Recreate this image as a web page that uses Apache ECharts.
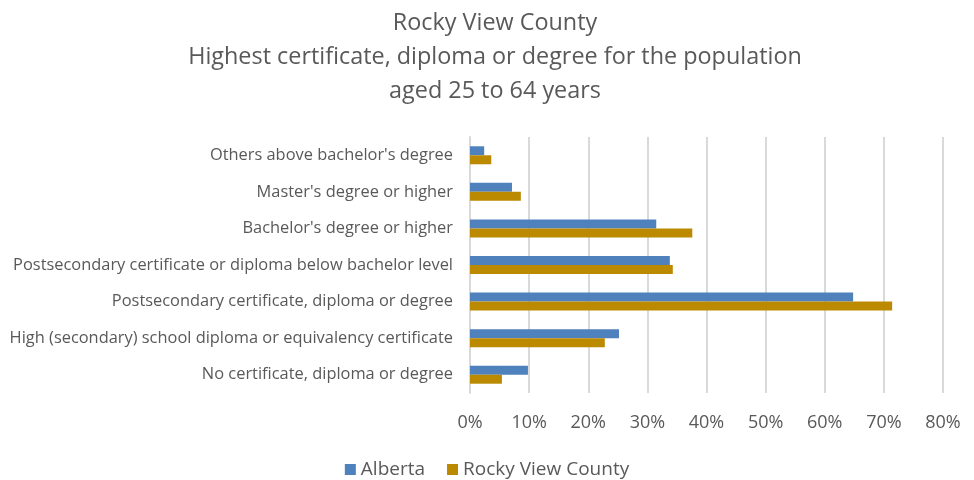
<!DOCTYPE html>
<html>
<head>
<meta charset="utf-8">
<script src="https://cdn.jsdelivr.net/npm/echarts@6/dist/echarts.min.js"></script>
<style>
  html, body { margin: 0; padding: 0; background: #fff; }
  #main { width: 974px; height: 480px; }
</style>
</head>
<body>
<div id="main"></div>
<script>
// categories, top to bottom as in the picture
var categories = [
  "Others above bachelor's degree",
  "Master's degree or higher",
  "Bachelor's degree or higher",
  "Postsecondary certificate or diploma below bachelor level",
  "Postsecondary certificate, diploma or degree",
  "High (secondary) school diploma or equivalency certificate",
  "No certificate, diploma or degree"
];
var seriesNames = ['Alberta', 'Rocky View County'];
var alberta = [2.4, 7.1, 31.5, 33.8, 64.8, 25.2, 9.8];
var rockyView = [3.6, 8.6, 37.6, 34.3, 71.4, 22.8, 5.4];

var textColor = '#595959';
var font = 'Open Sans';

var chart = echarts.init(document.getElementById('main'));
chart.setOption({
  backgroundColor: '#fff',
  animation: false,
  title: {
    text: 'Rocky View County\nHighest certificate, diploma or degree for the population\naged 25 to 64 years',
    left: 490,
    textAlign: 'center',
    top: 1,
    textStyle: {
      color: textColor,
      fontFamily: font,
      fontWeight: 'normal',
      fontSize: 23.4,
      lineHeight: 34
    }
  },
  legend: {
    top: 460,
    left: 'center',
    padding: 0,
    itemWidth: 11,
    itemHeight: 11,
    itemGap: 22,
    icon: 'rect',
    textStyle: { color: textColor, fontFamily: font, fontSize: 19 },
    data: seriesNames
  },
  grid: { left: 470, right: 31, top: 137, bottom: 87 },
  xAxis: {
    type: 'value',
    min: 0,
    max: 80,
    interval: 10,
    axisLine: { show: false },
    axisTick: { show: false },
    axisLabel: {
      color: textColor,
      fontFamily: font,
      fontSize: 18,
      margin: 21,
      formatter: '{value}%'
    },
    splitLine: { lineStyle: { color: '#D9D9D9', width: 2 } }
  },
  yAxis: {
    type: 'category',
    inverse: true,
    data: categories,
    axisLine: { lineStyle: { color: '#D9D9D9', width: 2 } },
    axisTick: { show: false },
    axisLabel: {
      color: textColor,
      fontFamily: font,
      fontSize: 16.4,
      margin: 17
    }
  },
  series: [
    {
      name: seriesNames[0],
      type: 'bar',
      data: alberta,
      barWidth: 9,
      barGap: '0%',
      itemStyle: { color: '#4F81BD' }
    },
    {
      name: seriesNames[1],
      type: 'bar',
      data: rockyView,
      barWidth: 9,
      barGap: '0%',
      itemStyle: { color: '#BB8A00' }
    }
  ]
});
</script>
</body>
</html>
